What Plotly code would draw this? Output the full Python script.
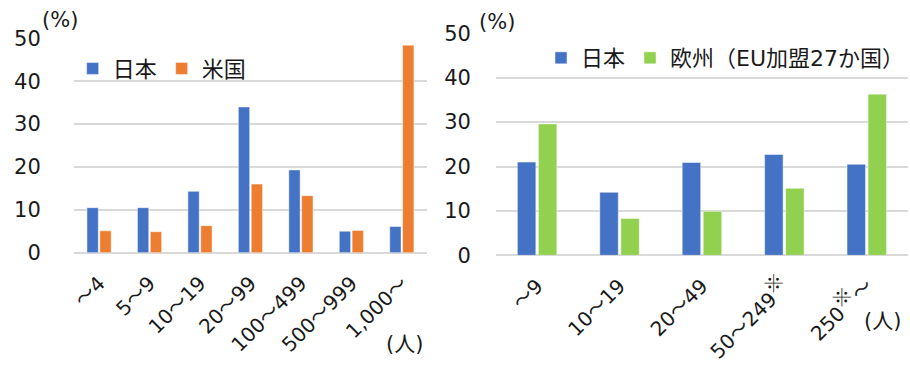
import plotly.graph_objects as go

# 従業員規模別の企業割合 (%)
STAR = '<sup><span style="font-size:19px;font-family:Noto Sans CJK JP">※</span></sup>'
us_sizes = ["～4", "5～9", "10～19", "20～99", "100～499", "500～999", "1,000～"]
jp_vs_us = [10.5, 10.5, 14.3, 34.0, 19.3, 5.0, 6.1]
us_vals = [5.1, 4.9, 6.3, 16.0, 13.3, 5.2, 48.4]

eu_sizes = ["～9", "10～19", "20～49", "50～249" + STAR, "250" + STAR + "～"]
jp_vs_eu = [21.0, 14.2, 20.9, 22.7, 20.5]
eu_vals = [29.6, 8.3, 9.9, 15.1, 36.3]

BLUE = "#4472C4"
ORANGE = "#ED7D31"
GREEN = "#92D050"
GRID = "#D9D9D9"
FONT = "DejaVu Sans, Noto Sans CJK JP"
TXT = "#1a1a1a"

fig = go.Figure()
bar_line = {"color": "rgba(255,255,255,0.6)", "width": 0.8}
fig.add_trace(go.Bar(x=us_sizes, y=jp_vs_us, name="日本", marker={"color": BLUE, "line": bar_line},
                     xaxis="x", yaxis="y", legend="legend"))
fig.add_trace(go.Bar(x=us_sizes, y=us_vals, name="米国", marker={"color": ORANGE, "line": bar_line},
                     xaxis="x", yaxis="y", legend="legend"))
fig.add_trace(go.Bar(x=eu_sizes, y=jp_vs_eu, name="日本", marker={"color": BLUE, "line": bar_line},
                     xaxis="x2", yaxis="y2", legend="legend2"))
fig.add_trace(go.Bar(x=eu_sizes, y=eu_vals, name="欧州（EU加盟27か国）", marker={"color": GREEN, "line": bar_line},
                     xaxis="x2", yaxis="y2", legend="legend2"))

yax = dict(range=[0, 50], dtick=10, showgrid=True, gridcolor=GRID, gridwidth=1.5,
           zeroline=True, zerolinecolor=GRID, zerolinewidth=1.5, showline=False,
           tickfont={"size": 21, "color": TXT}, automargin=False, fixedrange=True)
xax = dict(tickangle=-45, showline=False, showgrid=False, ticks="",
           tickfont={"size": 20, "color": TXT}, automargin=False)

fig.update_layout(
    width=910, height=365,
    margin={"l": 0, "r": 0, "t": 0, "b": 0},
    paper_bgcolor="white", plot_bgcolor="white",
    font={"family": FONT, "color": TXT},
    barmode="group", bargap=0.49, bargroupgap=0.12,
    xaxis=dict(domain=[74 / 910, 428 / 910], anchor="y", ticklabelstandoff=14, **xax),
    yaxis=dict(domain=[0.3077, 0.8951], anchor="x", ticklabelstandoff=32, **yax),
    xaxis2=dict(domain=[497 / 910, 1.0], anchor="y2", ticklabelstandoff=14, **xax),
    yaxis2=dict(domain=[0.3005, 0.9088], anchor="x2", ticklabelstandoff=24, **yax),
    legend=dict(orientation="h", x=0.08, y=0.812, xanchor="left", yanchor="middle",
                font={"size": 22, "color": TXT}, bgcolor="rgba(0,0,0,0)", itemclick=False),
    legend2=dict(orientation="h", x=0.596, y=0.841, xanchor="left", yanchor="middle",
                 font={"size": 22, "color": TXT}, bgcolor="rgba(0,0,0,0)", itemclick=False),
)

# 注記は画素位置 (左上基準) で指定
notes = [("(%)", 40, 6), ("(%)", 478, 8), ("(人)", 385, 330), ("(人)", 864, 307)]
for text, px, py in notes:
    fig.add_annotation(text=text, x=px / 910, y=1 - py / 365, xref="paper", yref="paper",
                       xanchor="left", yanchor="top", showarrow=False,
                       font={"size": 21, "color": TXT})

fig.write_html("out.html", config={"displayModeBar": False},
               post_script="document.body.style.margin='0';")
